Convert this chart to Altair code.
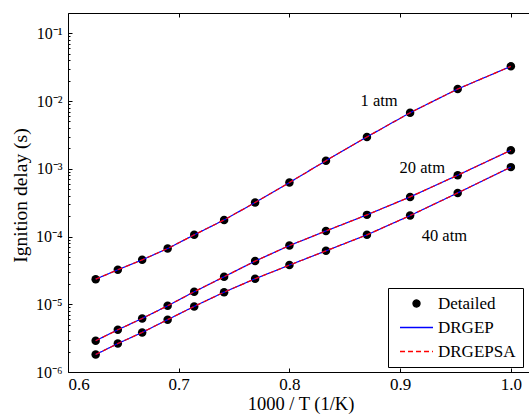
import altair as alt
import pandas as pd

inv_T = [0.625, 0.645, 0.667, 0.690, 0.714, 0.741, 0.769, 0.800, 0.833, 0.870, 0.909, 0.952, 1.000]
tau_1atm = [2.35e-5, 3.23e-5, 4.53e-5, 6.65e-5, 1.06e-4, 1.76e-4, 3.18e-4, 6.27e-4, 1.32e-3, 2.96e-3, 6.74e-3, 1.51e-2, 3.26e-2]
tau_20atm = [2.9e-6, 4.2e-6, 6.18e-6, 9.5e-6, 1.53e-5, 2.55e-5, 4.34e-5, 7.36e-5, 1.21e-4, 2.09e-4, 3.85e-4, 8.05e-4, 1.88e-3]
tau_40atm = [1.81e-6, 2.63e-6, 3.84e-6, 5.93e-6, 9.3e-6, 1.51e-5, 2.38e-5, 3.79e-5, 6.15e-5, 1.06e-4, 2.04e-4, 4.41e-4, 1.06e-3]
pressures = ["1 atm", "20 atm", "40 atm"]
models = ["Detailed", "DRGEP", "DRGEPSA"]
model_colors = ["#000000", "#0000ff", "#ff0000"]

label_text = ["1 atm", "20 atm", "40 atm"]
label_x = [0.881, 0.920, 0.940]
label_y = [1.0e-2, 1.03e-3, 1.02e-4]

x_ticks = [0.6, 0.7, 0.8, 0.9, 1.0]
y_major = [1e-6, 1e-5, 1e-4, 1e-3, 1e-2, 1e-1]
y_minor = [m * 10.0 ** k for k in range(-6, -1) for m in range(2, 10)]

rows = []
for p, taus in zip(pressures, [tau_1atm, tau_20atm, tau_40atm]):
    for m in models:
        for xv, tv in zip(inv_T, taus):
            rows.append({"pressure": p, "model": m, "invT": xv, "tau": tv})
df = pd.DataFrame(rows)
labels_df = pd.DataFrame({"text": label_text, "x": label_x, "y": label_y})

FONT = "Liberation Serif"
xscale = alt.Scale(domain=[0.6, 1.02], nice=False, zero=False)
yscale = alt.Scale(type="log", domain=[1e-6, 0.2], nice=False)
line_path = "M-4.71,0H4.71"
color = alt.Color("model:N", scale=alt.Scale(domain=models, range=model_colors), title=None,
                  legend=alt.Legend(orient="none", legendX=320, legendY=275))

sup = "['10⁻⁶','10⁻⁵','10⁻⁴','10⁻³','10⁻²','10⁻¹'][round(log(datum.value)/LN10)+6]"

def tick_axis(orient, values, size):
    return alt.Axis(orient=orient, values=values, tickSize=size, offset=-size, labels=False,
                    domain=False, grid=False, title=None, tickColor="black", tickWidth=1)

points = alt.Chart(df).transform_filter(alt.datum.model == "Detailed").mark_point(
    filled=True, size=72, opacity=1).encode(
    x=alt.X("invT:Q", scale=xscale,
            axis=alt.Axis(orient="bottom", values=x_ticks, tickSize=0, domain=False, format=".1f",
                          labelFont=FONT, labelFontSize=17, labelPadding=4, labelColor="black",
                          title="1000 / T (1/K)", titleFont=FONT, titleFontSize=18.5,
                          titleFontWeight="normal", titleColor="black", titleY=37,
                          titleBaseline="alphabetic")),
    y=alt.Y("tau:Q", scale=yscale,
            axis=alt.Axis(orient="left", values=y_major, tickSize=0, domain=False, labelExpr=sup,
                          labelFont=FONT, labelFontSize=16, labelPadding=6, labelColor="black",
                          title="Ignition delay (s)", titleFont=FONT, titleFontSize=19.5,
                          titleFontWeight="normal", titleColor="black", titleX=-48,
                          titleY=182, titleBaseline="middle", titleAngle=-90)),
    color=color,
    shape=alt.Shape("model:N", scale=alt.Scale(domain=models, range=["circle", line_path, line_path]),
                    title=None),
)

dash_scale = alt.Scale(domain=models, range=[[1, 0], [1, 0], [5, 3]])

line_a = alt.Chart(df).transform_filter(alt.datum.model == "DRGEP").mark_line(strokeWidth=1.2).encode(
    x=alt.X("invT:Q", scale=xscale, axis=tick_axis("bottom", x_ticks, 4)),
    y=alt.Y("tau:Q", scale=yscale, axis=tick_axis("left", y_major, 4)),
    color=color,
    strokeDash=alt.StrokeDash("model:N", scale=dash_scale, title=None),
    detail="pressure:N",
)

line_b = alt.Chart(df).transform_filter(alt.datum.model == "DRGEPSA").mark_line(strokeWidth=1.2).encode(
    x=alt.X("invT:Q", scale=xscale, axis=tick_axis("top", x_ticks, 4)),
    y=alt.Y("tau:Q", scale=yscale, axis=tick_axis("left", y_minor, 2)),
    color=color,
    strokeDash=alt.StrokeDash("model:N", scale=dash_scale, title=None),
    detail="pressure:N",
)

texts = alt.Chart(labels_df).mark_text(font=FONT, fontSize=16.5, color="black", align="center",
                                       baseline="middle").encode(
    x=alt.X("x:Q", scale=xscale, axis=None),
    y=alt.Y("y:Q", scale=yscale, axis=tick_axis("right", y_major, 4)),
    text="text:N",
)

chart = alt.layer(points, line_a, line_b, texts).resolve_axis(
    x="independent", y="independent"
).properties(
    width=465, height=359,
    padding={"left": 68, "top": 13, "right": -4, "bottom": 44},
    autosize=alt.AutoSizeParams(type="none"),
    background="white",
).configure_view(
    stroke="black", strokeWidth=1
).configure_axis(
    grid=False
).configure_legend(
    strokeColor="black", fillColor="white", padding=7, cornerRadius=0,
    labelFont=FONT, labelFontSize=17, labelColor="black", rowPadding=6, labelOffset=13,
    symbolStrokeWidth=1.3, symbolSize=49, symbolOffset=13,
)

chart.save("out.html", embed_options={"renderer": "svg", "actions": False})
